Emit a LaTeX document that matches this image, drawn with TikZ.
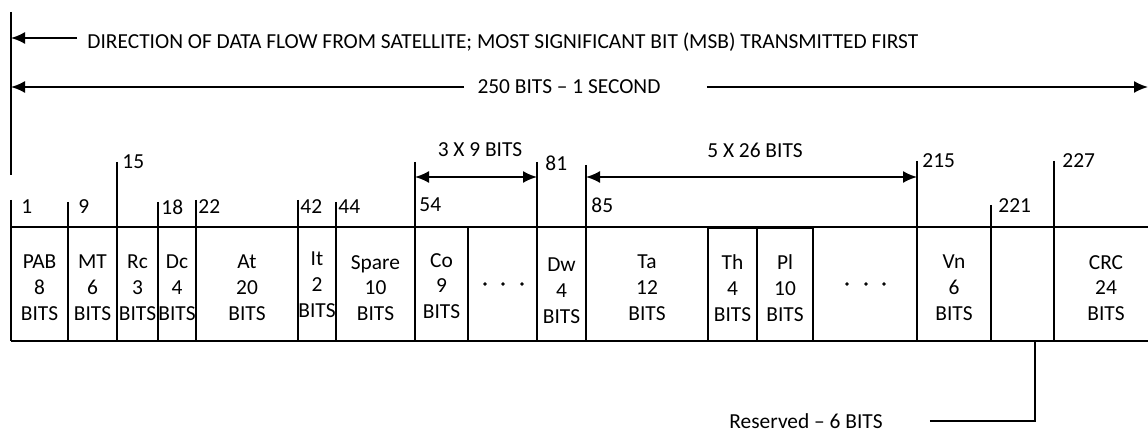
\documentclass[tikz,border=0pt]{standalone}
\usepackage{fontspec}
\setmainfont{Carlito}
\usetikzlibrary{arrows.meta}

\tikzstyle{rule}=[draw=black,line width=0.9pt]
\tikzstyle{heavy}=[draw=black,line width=1.3pt]
\tikzstyle{dots}=[draw=black,fill=black]
\tikzstyle{lbl}=[font=\fontsize{10.7}{12.9}\selectfont,inner sep=0pt]
\tikzstyle{num}=[lbl,anchor=west]
\tikzstyle{cell}=[lbl,align=center]
\tikzstyle{flow}=[rule,-{Latex[length=7pt,width=6pt]}]
\tikzstyle{span}=[rule,{Latex[length=7pt,width=6pt]}-{Latex[length=7pt,width=6pt]}]

\begin{document}
\begin{tikzpicture}[x=0.5pt,y=-0.5pt]
\useasboundingbox (0,0) rectangle (1148,432);

   % direction and length of the frame
   \draw[rule] (11,12) coordinate(origin) -- (11,175);
   \coordinate (far) at (1148,227);
   \node[num] (dir) at (87,42) {DIRECTION OF DATA FLOW FROM SATELLITE; MOST SIGNIFICANT BIT (MSB) TRANSMITTED FIRST};
   \draw[flow] ([xshift=-5pt,yshift=2pt]dir.west) -- ++(-66,0);
   \node[lbl] (total) at (569,87) {250 BITS – 1 SECOND};
   \draw[flow] ([xshift=-6.5pt]total.west) -- (total.west -| origin);
   \draw[flow] ([xshift=23pt]total.east) -- (total.east -| far);

   % frame outline
   \draw[rule] (11,227) -- (far);
   \draw[rule] (11,341) coordinate(bl) -- (far |- bl);

   % bit positions
   \foreach \x/\top/\n/\dx/\ly in {11/200/1/10/207, 68/202/9/10/207, 117/162/15/5/162,
      158/202/18/3/207, 196/200/22/2/207, 298/200/42/2/207, 336/202/44/2/207,
      415/162/54/4/205, 537/162/81/8/163, 586/165/85/5/205, 917/161/215/5/161,
      991/205/221/7/206, 1054/161/227/8/161}
   {
      \draw[rule] (\x,\top) coordinate(t\n) -- (\x,341);
      \node[num] (n\n) at (\x+\dx,\ly) {\n};
   }
   \foreach \x in {468,708,757,813}
      \draw[rule] (\x,227) -- (\x,341);
   \draw[heavy] (68,227) rectangle (117,341);
   \draw[rule] (708,228) rectangle (757,341);
   \draw[rule] (757,228) rectangle (813,341);

   % repeated groups
   \node[lbl] (co3) at (480,150) {3 X 9 BITS};
   \draw[span] (415,177) coordinate(co3l) -- (537,177) coordinate(co3r);
   \node[lbl] (ta5) at (755,150) {5 X 26 BITS};
   \draw[span] (586,177) coordinate(ta5l) -- (917,177) coordinate(ta5r);

   % fields
   \node[cell] (pab) at (39.5,288) {PAB\\8\\BITS};
   \node[cell] (mt) at (92.5,288) {MT\\6\\BITS};
   \node[cell] (rc) at (137.5,288) {Rc\\3\\BITS};
   \node[cell] (dc) at (177,288) {Dc\\4\\BITS};
   \node[cell] (at) at (247,288) {At\\20\\BITS};
   \node[cell] (it) at (317,285) {It\\2\\BITS};
   \node[cell] (spare) at (375.5,288) {Spare\\10\\BITS};
   \node[cell] (co) at (441.5,286) {Co\\9\\BITS};
   \node[cell] (dw) at (561.5,291) {Dw\\4\\BITS};
   \node[cell] (ta) at (647,288) {Ta\\12\\BITS};
   \node[cell] (th) at (732.5,288) {Th\\4\\BITS};
   \node[cell] (pl) at (785,288) {Pl\\10\\BITS};
   \node[cell] (vn) at (954,288) {Vn\\6\\BITS};
   \node[cell] (crc) at (1106,288) {CRC\\24\\BITS};

   \foreach \d in {485,503,522} \draw[dots] (\d,284) circle (1.4);
   \foreach \d in {847,866,884} \draw[dots] (\d,284) circle (1.4);

   % reserved bits
   \node[lbl] (res) at (806,421) {Reserved – 6 BITS};
   \coordinate (resbot) at (1035,341);
   \draw[rule] ([xshift=23.5pt]res.east) -- (resbot |- res.east) -- (resbot);
\end{tikzpicture}
\end{document}
